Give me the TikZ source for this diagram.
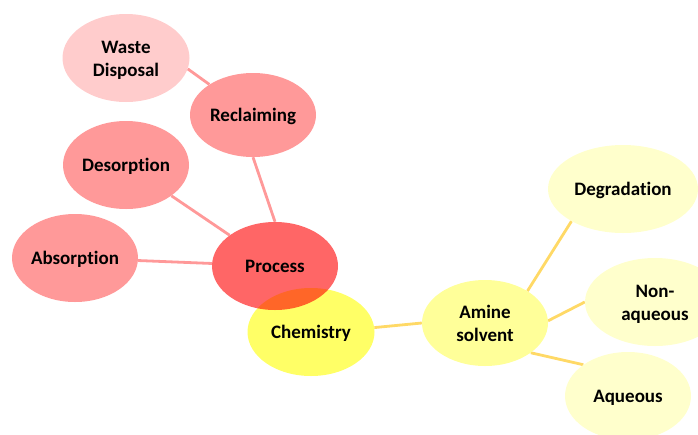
\documentclass[tikz,border=0pt]{standalone}
\usepackage{fontspec}
\setmainfont{Carlito}[Ligatures={NoCommon}]
\usetikzlibrary{shapes.geometric,backgrounds}
\definecolor{wastefill}{HTML}{FFCCCC}
\definecolor{pinkfill}{HTML}{FF9999}
\definecolor{redfill}{HTML}{FF6666}
\definecolor{chemfill}{HTML}{FFFF66}
\definecolor{aminefill}{HTML}{FFFF99}
\definecolor{palefill}{HTML}{FFFFCC}
\definecolor{pinkline}{HTML}{FF9999}
\definecolor{goldline}{HTML}{FFD966}
\newcommand{\bubbletext}[1]{\makebox[0pt][c]{\raisebox{-2pt}[\height][\depth]{\begin{tabular}{@{}c@{}}#1\end{tabular}}}}
\begin{document}
\begin{tikzpicture}[x=1pt,y=-1pt,
  bubble/.style={ellipse, minimum width=126pt, minimum height=88pt, inner sep=0pt,
    font=\bfseries\fontsize{19}{23}\selectfont, text=black},
  pinklink/.style={draw=pinkline, line width=2.8pt},
  goldlink/.style={draw=goldline, line width=2.8pt}]
\useasboundingbox (0,0) rectangle (698,434);

% process branch
\node[bubble, fill=wastefill, minimum width=127pt] (waste) at (126,58) {\bubbletext{Waste\\Disposal}};
\node[bubble, fill=pinkfill, minimum height=84pt] (recl) at (253,115) {\bubbletext{Reclaiming}};
\node[bubble, fill=pinkfill] (des) at (126,165) {\bubbletext{Desorption}};
\node[bubble, fill=pinkfill] (abs) at (75,258) {\bubbletext{Absorption}};
\node[bubble, fill=redfill] (proc) at (275,266) {\bubbletext{Process}};

% chemistry branch, multiplied over the process bubble
\begin{scope}[blend mode=multiply]
\node[bubble, fill=chemfill, minimum width=127pt] (chem) at (311,332) {\bubbletext{Chemistry}};
\end{scope}
\node[bubble, fill=aminefill, minimum height=86pt] (amine) at (485,323) {\bubbletext{Amine\\solvent}};
\node[bubble, fill=palefill, minimum width=150pt] (degr) at (623,189) {\bubbletext{Degradation}};
\node[bubble, fill=palefill, minimum width=140pt] (nonaq) at (655,302) {\bubbletext{Non-\\aqueous}};
\node[bubble, fill=palefill] (aq) at (628,396) {\bubbletext{Aqueous}};

% connectors
\begin{scope}[on background layer]
\draw[pinklink] (waste.-10) -- (recl.145);
\draw[pinklink] (recl.south) -- (proc.north);
\draw[pinklink] (des) -- (proc);
\draw[pinklink] (abs) -- (proc);
\draw[goldlink] (chem.4) -- (amine.180);
\draw[goldlink] (amine.37) -- (degr.212);
\draw[goldlink] (amine.2) -- (nonaq.180);
\draw[goldlink] (amine.-33) -- (aq.145);
\end{scope}
\end{tikzpicture}
\end{document}
